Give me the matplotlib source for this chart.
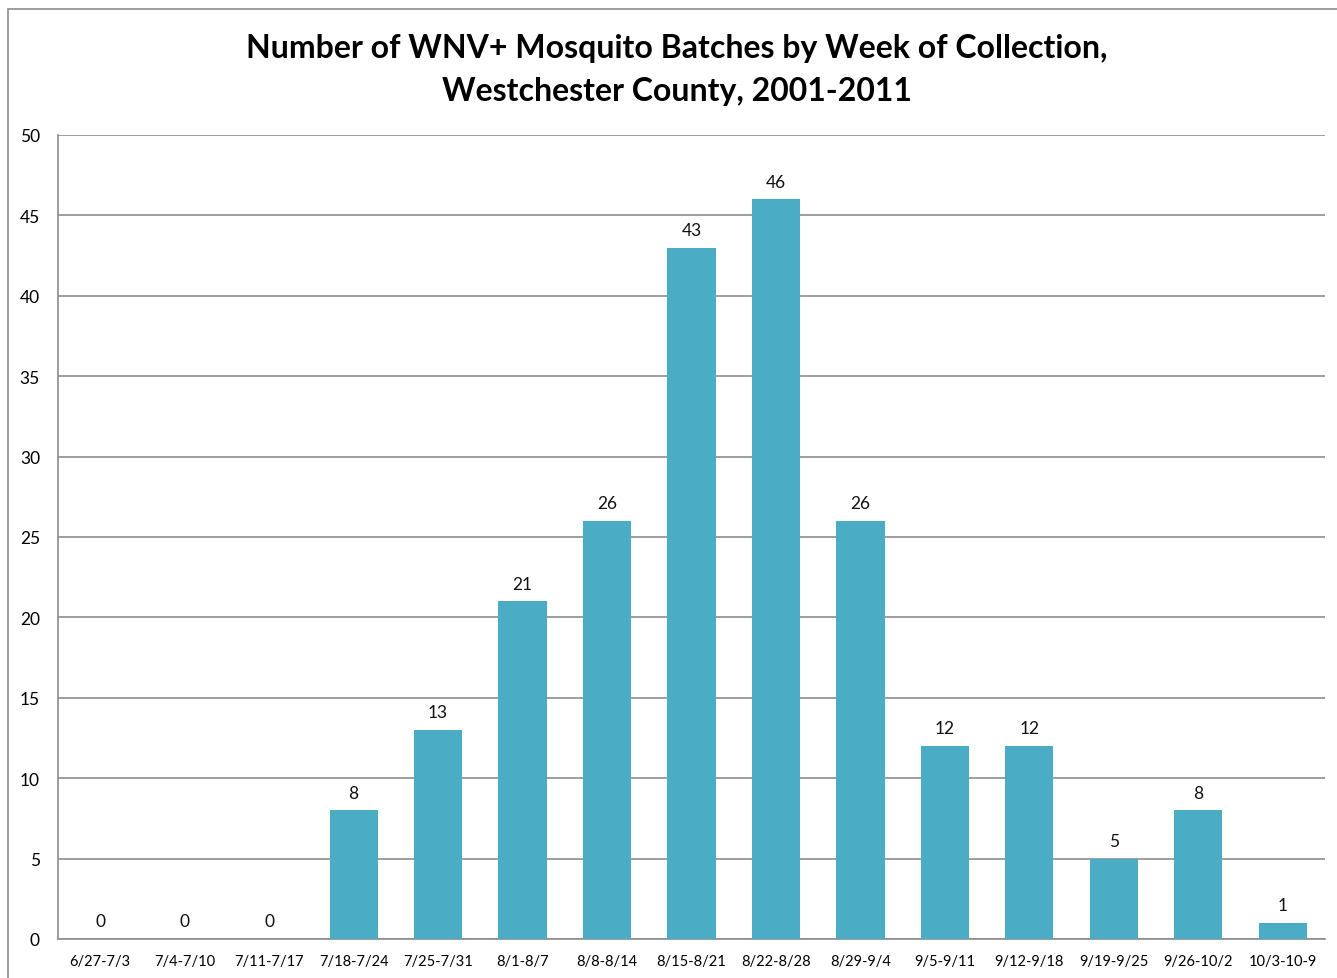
import matplotlib.pyplot as plt
from matplotlib.patches import Rectangle

weeks = ['6/27-7/3', '7/4-7/10', '7/11-7/17', '7/18-7/24', '7/25-7/31',
         '8/1-8/7', '8/8-8/14', '8/15-8/21', '8/22-8/28', '8/29-9/4',
         '9/5-9/11', '9/12-9/18', '9/19-9/25', '9/26-10/2', '10/3-10-9']
batches = [0, 0, 0, 8, 13, 21, 26, 43, 46, 26, 12, 12, 5, 8, 1]

plt.rcParams['font.family'] = ['Lato', 'DejaVu Sans']

fig = plt.figure(figsize=(13.37, 9.79), dpi=100)
ax = fig.add_axes([58 / 1337, 39 / 979, 1267 / 1337, 804 / 979])

# chart frame around everything
fig.patches.append(Rectangle((8 / 1337, -0.01), 1.1, 0.9998 - 10 / 979 + 0.01,
                             transform=fig.transFigure, fill=False,
                             edgecolor='#8c8c8c', linewidth=1.2))

x = range(len(weeks))
bars = ax.bar(x, batches, width=0.57, color='#4BACC6', zorder=3)
for b, v in zip(bars, batches):
    ax.annotate(str(v), (b.get_x() + b.get_width() / 2, v),
                xytext=(0, 7), textcoords='offset points',
                ha='center', va='bottom', fontsize=12.5, color='#111111')

ax.set_xlim(-0.5, len(weeks) - 0.5)
ax.set_ylim(0, 50)
ax.set_yticks(range(0, 51, 5))
ax.yaxis.grid(True, color='#8c8c8c', linewidth=1.2, zorder=0)
ax.set_xticks(list(x))
ax.set_xticklabels(weeks, fontsize=10.5)
ax.tick_params(axis='y', length=0, pad=13, labelsize=12.5)
ax.tick_params(axis='x', length=0, pad=11)
for s in ['top', 'right']:
    ax.spines[s].set_visible(False)
for s in ['left', 'bottom']:
    ax.spines[s].set_color('#8c8c8c')
    ax.spines[s].set_linewidth(1.2)

fig.text(677 / 1337, 1 - 70 / 979,
         'Number of WNV+ Mosquito Batches by Week of Collection,\nWestchester County, 2001-2011',
         ha='center', va='center', fontsize=23, fontweight='bold',
         linespacing=1.6)

fig.savefig('out.png', dpi=100)
